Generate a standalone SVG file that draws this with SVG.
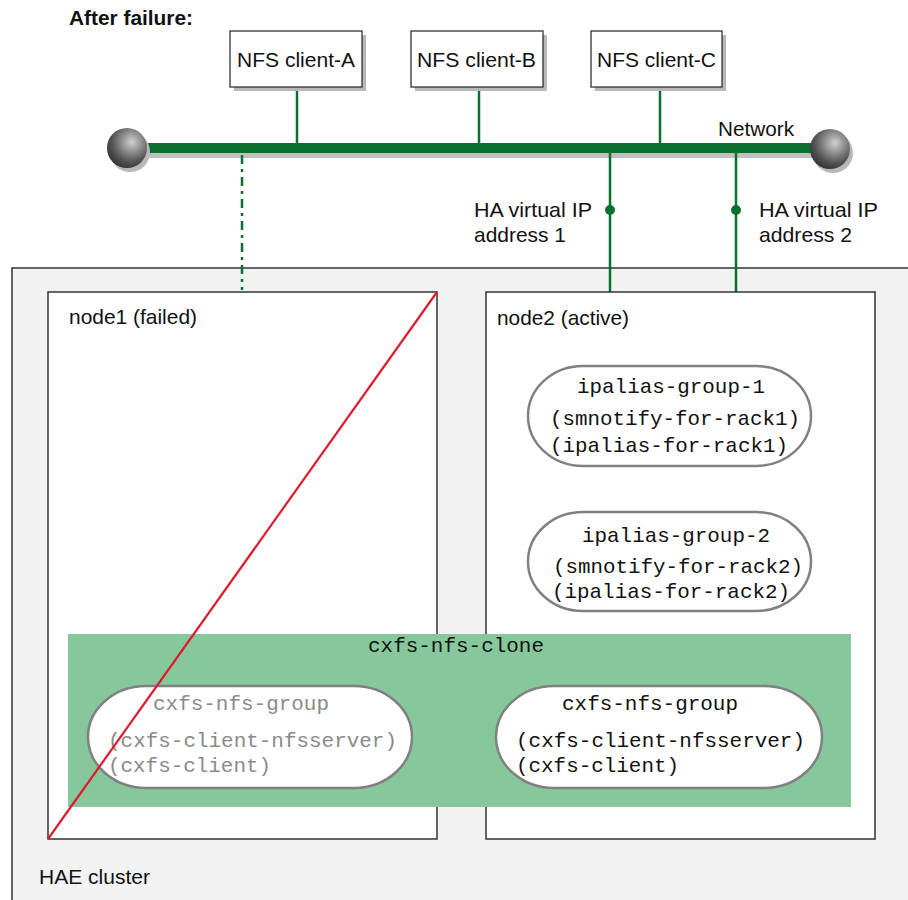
<svg xmlns="http://www.w3.org/2000/svg" width="908" height="900" viewBox="0 0 908 900">
<defs>
<radialGradient id="sph" cx="0.62" cy="0.35" r="0.7">
<stop offset="0" stop-color="#d0d0d0"/>
<stop offset="0.3" stop-color="#9a9a9a"/>
<stop offset="0.7" stop-color="#555"/>
<stop offset="1" stop-color="#333"/>
</radialGradient>
<style>
.sans{font-family:"Liberation Sans",Arial,sans-serif;font-size:21px;fill:#111}
.mono{font-family:"Liberation Mono","Courier New",monospace;font-size:21px;fill:#111}
.gray{fill:#8a8a8a}
.client{fill:#fff;stroke:#222;stroke-width:1.2}
.shadow{fill:#b8b8b8}
.link{stroke:#0a702e;stroke-width:2.5;fill:none}
.box{fill:#fff;stroke:#333;stroke-width:1.5}
.pill{fill:#fff;stroke:#808080;stroke-width:2.5}
</style>
</defs>
<rect width="908" height="900" fill="#fff"/>
<text class="sans" x="69" y="25" font-weight="bold" textLength="124" lengthAdjust="spacingAndGlyphs">After failure:</text>

<g id="cluster">
<rect x="12" y="268" width="910" height="650" fill="#f2f2f2" stroke="#333" stroke-width="1.5"/>
<text class="sans" x="39" y="884" textLength="111" lengthAdjust="spacingAndGlyphs">HAE cluster</text>
</g>

<g id="network">
<rect x="127" y="153" width="703" height="5" fill="#c0c0c0"/>
<rect x="127" y="143" width="703" height="10" fill="#0a702e"/>
<circle cx="130" cy="152" r="20" fill="#b8b8b8"/>
<circle cx="127" cy="148" r="20" fill="url(#sph)"/>
<circle cx="833" cy="153" r="20" fill="#b8b8b8"/>
<circle cx="830" cy="149" r="20" fill="url(#sph)"/>
<text class="sans" x="718" y="136" textLength="76" lengthAdjust="spacingAndGlyphs">Network</text>
</g>

<g id="connectors">
<line class="link" x1="297" y1="87" x2="297" y2="143"/>
<line class="link" x1="479" y1="87" x2="479" y2="143"/>
<line class="link" x1="660" y1="87" x2="660" y2="143"/>
<line class="link" x1="242" y1="155" x2="242" y2="290" stroke-dasharray="9 5 3 5"/>
<line class="link" x1="610" y1="153" x2="610" y2="292"/>
<line class="link" x1="736" y1="153" x2="736" y2="292"/>
<circle cx="610" cy="210" r="5" fill="#0a702e"/>
<circle cx="736" cy="210" r="5" fill="#0a702e"/>
</g>

<g id="ha-labels">
<text class="sans" x="474" y="217" textLength="118" lengthAdjust="spacingAndGlyphs">HA virtual IP</text>
<text class="sans" x="474" y="242" textLength="92" lengthAdjust="spacingAndGlyphs">address 1</text>
<text class="sans" x="759" y="217" textLength="119" lengthAdjust="spacingAndGlyphs">HA virtual IP</text>
<text class="sans" x="759" y="242" textLength="93" lengthAdjust="spacingAndGlyphs">address 2</text>
</g>

<g id="client-a">
<rect class="shadow" x="234" y="35" width="132" height="56"/>
<rect class="client" x="230" y="31" width="132" height="56"/>
<text class="sans" x="237" y="67" textLength="118" lengthAdjust="spacingAndGlyphs">NFS client-A</text>
</g>
<g id="client-b">
<rect class="shadow" x="415" y="35" width="132" height="56"/>
<rect class="client" x="411" y="31" width="132" height="56"/>
<text class="sans" x="417" y="67" textLength="119" lengthAdjust="spacingAndGlyphs">NFS client-B</text>
</g>
<g id="client-c">
<rect class="shadow" x="595" y="35" width="131" height="56"/>
<rect class="client" x="591" y="31" width="131" height="56"/>
<text class="sans" x="597" y="67" textLength="119" lengthAdjust="spacingAndGlyphs">NFS client-C</text>
</g>

<g id="node1">
<rect class="box" x="48" y="292" width="389" height="547"/>
<text class="sans" x="69" y="324" textLength="128" lengthAdjust="spacingAndGlyphs">node1 (failed)</text>
</g>
<g id="node2">
<rect class="box" x="486" y="292" width="389" height="547"/>
<text class="sans" x="497" y="325" textLength="132" lengthAdjust="spacingAndGlyphs">node2 (active)</text>
</g>

<g id="ipalias-group-1">
<rect class="pill" x="528" y="366" width="283" height="100" rx="55" ry="50"/>
<text class="mono" x="577" y="393" textLength="188" lengthAdjust="spacingAndGlyphs">ipalias-group-1</text>
<text class="mono" x="550" y="425" textLength="250" lengthAdjust="spacingAndGlyphs">(smnotify-for-rack1)</text>
<text class="mono" x="550" y="452" textLength="238" lengthAdjust="spacingAndGlyphs">(ipalias-for-rack1)</text>
</g>
<g id="ipalias-group-2">
<rect class="pill" x="528" y="512" width="283" height="99" rx="55" ry="50"/>
<text class="mono" x="582" y="542" textLength="188" lengthAdjust="spacingAndGlyphs">ipalias-group-2</text>
<text class="mono" x="553" y="573" textLength="250" lengthAdjust="spacingAndGlyphs">(smnotify-for-rack2)</text>
<text class="mono" x="552" y="598" textLength="238" lengthAdjust="spacingAndGlyphs">(ipalias-for-rack2)</text>
</g>

<g id="cxfs-nfs-clone">
<rect x="68" y="634" width="783" height="173" fill="#86c89c"/>
<text class="mono" x="368" y="652" textLength="176" lengthAdjust="spacingAndGlyphs">cxfs-nfs-clone</text>
</g>
<g id="cxfs-nfs-group-1">
<rect class="pill" x="88" y="686" width="324" height="102" rx="58" ry="51"/>
<text class="mono gray" x="153" y="710" textLength="176" lengthAdjust="spacingAndGlyphs">cxfs-nfs-group</text>
<text class="mono gray" x="108" y="747" textLength="289" lengthAdjust="spacingAndGlyphs">(cxfs-client-nfsserver)</text>
<text class="mono gray" x="108" y="772" textLength="163" lengthAdjust="spacingAndGlyphs">(cxfs-client)</text>
</g>
<g id="cxfs-nfs-group-2">
<rect class="pill" x="496" y="686" width="326" height="102" rx="58" ry="51"/>
<text class="mono" x="562" y="710" textLength="176" lengthAdjust="spacingAndGlyphs">cxfs-nfs-group</text>
<text class="mono" x="516" y="747" textLength="289" lengthAdjust="spacingAndGlyphs">(cxfs-client-nfsserver)</text>
<text class="mono" x="516" y="772" textLength="163" lengthAdjust="spacingAndGlyphs">(cxfs-client)</text>
</g>

<g id="failure-mark">
<line x1="48" y1="839" x2="437" y2="292" stroke="#e0192e" stroke-width="2.2"/>
</g>
</svg>
